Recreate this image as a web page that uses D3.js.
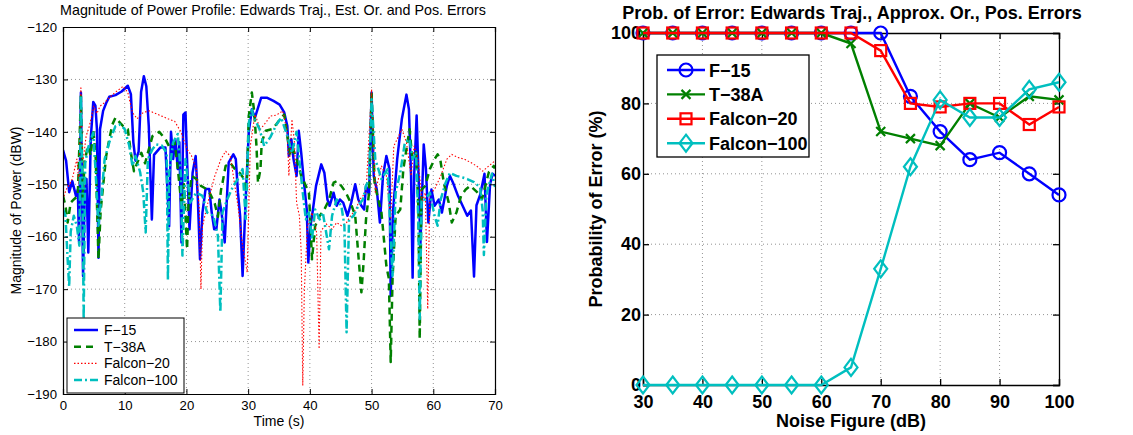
<!DOCTYPE html>
<html><head><meta charset="utf-8">
<script src="https://cdn.jsdelivr.net/npm/d3@7/dist/d3.min.js"></script>
<style>body{margin:0;background:#fff}svg{display:block}</style>
</head><body>
<svg id="c" width="1133" height="435"></svg>
<script>
// ---------- Left panel data: [time (s), power (dBW)] ----------
const f15 = [[0,-143.5],[0.5,-145.5],[1,-151.5],[1.5,-149.4],[2.1,-152.2],[2.4,-151],[2.6,-161],[2.9,-132.5],[3.25,-167.5],[3.5,-152.7],[3.8,-149],[4.1,-163],[4.5,-141.3],[4.9,-134.3],[5.25,-135],[5.5,-139.5],[5.75,-164],[6,-139.5],[6.5,-136],[7,-134.5],[7.5,-133.3],[8.5,-133],[9.5,-132.3],[10.5,-131.2],[11,-132.8],[11.4,-142],[11.75,-145.5],[12.25,-143.8],[12.65,-132.4],[13.1,-129.4],[13.5,-131.3],[13.9,-138.9],[14.15,-147.8],[14.4,-156.7],[14.75,-144.4],[15.75,-143],[16.6,-143],[17.2,-158],[17.5,-140],[17.85,-145.2],[18.2,-141.4],[18.6,-147.1],[18.85,-142],[19.2,-161.1],[19.5,-136.7],[19.85,-136.3],[20.1,-145.2],[20.5,-158.6],[21,-147.8],[21.5,-144.6],[21.85,-152.9],[22.2,-164.3],[22.6,-155.4],[23.1,-150.9],[23.7,-150.9],[24.1,-155.4],[24.5,-158.6],[24.85,-158.6],[25.35,-152.9],[25.7,-155.4],[26.2,-161.1],[26.85,-145.8],[27.6,-144.3],[28,-145.2],[28.35,-151.6],[28.7,-156],[29.1,-167.5],[29.6,-152.9],[30.1,-140.1],[30.6,-135.7],[31.1,-137.3],[32.1,-133.5],[33.1,-133.5],[34.1,-134.1],[35.1,-134.8],[35.85,-136.3],[36.35,-138.9],[36.6,-144.6],[37,-141.4],[37.35,-145.2],[37.85,-148.4],[38.2,-139.8],[38.6,-144],[39.1,-150.3],[39.5,-154.8],[39.75,-164.9],[40.1,-158],[40.5,-154.8],[41,-150.3],[41.85,-146.2],[42.35,-147.8],[42.85,-152.9],[43.2,-154.1],[43.85,-151.6],[44.35,-154.1],[44.85,-152.9],[45.4,-153.5],[46.1,-156],[46.7,-153.5],[47.35,-150],[47.85,-152.9],[48.35,-154.1],[48.8,-154.8],[49.1,-150.3],[49.6,-152],[50,-132.5],[50.35,-148.4],[50.85,-151],[51.35,-157.3],[51.85,-148.4],[52.4,-144.6],[52.9,-147.1],[53.1,-171.3],[53.5,-154.8],[54.15,-145.2],[54.9,-137.6],[55.65,-132.9],[56.05,-135.7],[56.4,-148.4],[56.65,-167.8],[56.9,-148.4],[57.3,-136.9],[57.7,-151.6],[57.9,-162],[58.45,-142.4],[58.8,-147],[59.2,-157.3],[59.7,-151],[60.2,-154.1],[60.9,-152.9],[61.4,-155.4],[62.2,-150.3],[62.7,-148.4],[63.2,-149.7],[64,-152.2],[64.75,-154.1],[65.5,-156],[66.1,-155],[66.6,-167.6],[67,-154],[67.6,-152],[68.3,-148],[68.7,-161],[69.2,-150],[69.6,-148],[70,-148.4]];

const t38a = [[0,-152.2],[0.4,-154.1],[0.75,-157.3],[1.25,-153.5],[1.75,-152.9],[2.4,-152.2],[2.9,-133.2],[3.2,-152.5],[3.5,-145.9],[4,-142.7],[4.5,-144.5],[4.9,-139.5],[5.3,-145],[5.75,-164.3],[6.1,-155],[6.5,-150.3],[7,-144.6],[7.5,-141.4],[8,-138.6],[8.5,-137.3],[9.25,-138.3],[10,-139.2],[10.5,-139.5],[11,-144],[11.5,-147.5],[12,-146],[12.7,-144],[13.3,-146],[13.75,-144],[14.5,-140.8],[15.1,-140.4],[15.6,-140],[16.6,-141.4],[17.3,-143],[18.1,-142],[18.6,-147],[19.2,-154],[19.6,-150],[20.1,-162.4],[20.35,-152.9],[20.85,-148.4],[21.6,-149],[22.35,-150.3],[23.1,-150.8],[23.85,-151.8],[24.6,-153.7],[25.1,-156.2],[25.6,-151.1],[25.85,-149.7],[26.35,-146.5],[27.1,-145.9],[27.85,-147.1],[28.6,-147.8],[29.35,-149],[29.75,-151.5],[30.1,-137],[30.6,-132.5],[31,-136.3],[31.35,-142.7],[31.6,-149.7],[32,-147.1],[32.2,-142],[32.85,-139.8],[33.85,-139.5],[34.6,-138.5],[35.35,-137.3],[35.85,-136.7],[36.35,-140.8],[36.85,-144.6],[37.35,-143.5],[37.85,-145.2],[38.6,-148.4],[39.35,-150.3],[39.85,-151.6],[40.35,-164.3],[40.85,-158],[41.6,-156],[42.35,-154.8],[43.1,-153],[43.85,-149.7],[44.35,-149.4],[45.1,-150.3],[45.85,-151.6],[46.6,-153.5],[47.35,-156],[48,-165.6],[48.35,-170.6],[48.7,-165],[49.1,-156.7],[49.6,-151.5],[50,-132.5],[50.5,-150],[51,-152.5],[51.6,-155.4],[52.4,-165.6],[52.8,-168],[53.1,-183.9],[53.4,-168],[53.9,-156],[54.65,-154.8],[55.15,-147.1],[55.65,-143.3],[56.15,-139.5],[56.6,-145],[57.2,-143.9],[57.6,-155],[57.8,-179.5],[58.1,-151],[58.7,-150.3],[59.45,-147.1],[60.2,-145.2],[60.7,-144.3],[61.1,-145],[61.7,-149.7],[62.5,-153.5],[63,-157.3],[63.75,-155.4],[64.5,-152.2],[65.25,-151],[66,-150.3],[67.1,-151.5],[67.9,-152.8],[69,-147.7],[69.8,-146.5],[70,-147]];

const falcon20 = [[0,-152.9],[0.5,-151],[1,-150.2],[1.5,-149],[2.25,-145.2],[2.6,-150],[2.9,-131.6],[3.2,-146],[3.75,-140.8],[4.25,-139],[5,-135.1],[5.5,-136.5],[6,-135.1],[6.75,-134.4],[7.75,-133.2],[8.75,-132.2],[9.75,-131.3],[10.5,-132.5],[11.25,-136.3],[12,-137.5],[13,-136.3],[14,-136],[15,-136.5],[16,-137],[17,-137.5],[18.1,-138],[19.1,-140],[20.1,-143.3],[20.8,-144.5],[21.6,-147.1],[22.1,-155],[22.35,-170],[22.6,-158],[23.6,-152.9],[24.6,-148.4],[25.6,-145.2],[26.35,-143.7],[27.1,-144.6],[27.85,-150.3],[28.35,-154.1],[29.1,-161.7],[29.85,-166.8],[30.35,-142.7],[31.1,-136.7],[32,-139.5],[33,-138],[33.6,-137],[34.6,-136.8],[35.6,-136],[36.35,-140.1],[36.6,-148.4],[37.1,-137.6],[37.5,-142],[37.85,-153.5],[38.3,-156],[38.6,-163],[38.85,-188.4],[39.1,-170.6],[39.6,-158],[40.35,-155.4],[41.1,-159.2],[41.5,-181.4],[41.8,-159],[42.6,-157.5],[43.6,-158.6],[44.35,-157.3],[45.1,-157.9],[45.85,-157.5],[46.6,-156],[47.35,-155],[48.1,-152.9],[49.1,-151.5],[50,-131.9],[50.6,-151.5],[51.6,-146.5],[52.4,-148.4],[53.1,-156.7],[53.6,-142.7],[54.15,-141.4],[54.9,-139.5],[55.65,-142],[56.4,-148.4],[56.9,-142.7],[57.5,-145],[58.2,-153.5],[58.7,-151.6],[59.1,-173.8],[59.45,-151.6],[60.2,-151],[61.2,-148.4],[62.2,-145.2],[63,-144.3],[64,-144.9],[65,-145.2],[66,-145.8],[67,-146.5],[68,-147.5],[69,-146.5],[70,-145.5]];

const falcon100 = [[0,-154.8],[0.4,-156],[0.75,-164.3],[1,-169.5],[1.25,-159],[1.75,-156],[2.25,-158],[2.65,-161.7],[2.9,-133],[3.15,-150],[3.35,-175.7],[3.6,-146],[4,-143.3],[4.5,-141.4],[4.9,-140.2],[5.25,-147],[5.75,-157.9],[6.25,-152],[6.75,-145.2],[7.5,-142],[8.5,-138.9],[9.25,-138.6],[10,-139.5],[10.75,-142.7],[11.25,-146.5],[11.75,-144.6],[12.5,-147.7],[13,-151.5],[13.4,-159.2],[13.75,-145.2],[14.5,-143.3],[15.1,-142.4],[16,-142.6],[16.8,-144],[17,-168.3],[17.2,-147.8],[17.85,-142],[18.6,-140.4],[19.1,-148],[19.35,-163.6],[19.85,-145.2],[20.6,-153.5],[21.6,-151.6],[22.6,-152.2],[23.35,-155.4],[24.35,-156],[25.1,-159.8],[25.5,-174.4],[25.85,-155.4],[26.6,-152.9],[27.6,-150.3],[28.35,-149],[29.1,-147.1],[29.6,-156.6],[30.1,-138.3],[30.6,-135.8],[30.85,-137],[31.85,-139.5],[32.6,-142.7],[33.6,-141],[34.6,-138.6],[35.35,-137.3],[36.35,-140.8],[37.1,-144],[37.85,-140],[38.35,-146],[38.85,-151.6],[39.35,-156.7],[39.85,-155.4],[40.35,-160.5],[40.85,-154.8],[41.6,-156.7],[42.1,-155.4],[43.1,-162.4],[43.6,-156],[44.35,-152.9],[45.1,-154.1],[45.6,-157.9],[45.95,-178.2],[46.35,-156.7],[47.1,-156],[47.85,-154.1],[48.6,-152.9],[49.1,-150.3],[49.6,-149],[50,-133.8],[50.6,-145.2],[51.1,-147.1],[51.6,-149],[52.6,-147.1],[53.1,-160],[53.4,-167.5],[53.9,-151.6],[54.65,-147.8],[55.4,-142],[56.15,-141.4],[56.65,-145.2],[57.2,-143.9],[57.6,-157.9],[57.8,-175.7],[58.1,-152.9],[58.7,-152.9],[59.45,-151.6],[60.2,-156],[60.7,-157.9],[61.2,-152.9],[62,-149.7],[62.7,-147.8],[63.75,-148.4],[64.75,-148.7],[65.5,-149],[66.6,-149.6],[67.6,-150.6],[68,-155],[68.2,-163.5],[68.6,-152],[69.5,-148],[70,-150.5]];

const leftXTicks = [0,10,20,30,40,50,60,70];
const leftYTicks = [-190,-180,-170,-160,-150,-140,-130,-120];

// ---------- Right panel data ----------
const noiseFigure = [30,35,40,45,50,55,60,65,70,75,80,85,90,95,100];
const pF15      = [100,100,100,100,100,100,100,100,100,82,72,64,66,60,54];
const pT38A     = [100,100,100,100,100,100,100,97,72,70,68,80,76,82,81];
const pFalcon20 = [100,100,100,100,100,100,100,100,95,80,79,80,80,74,79];
const pFalcon100= [0,0,0,0,0,0,0,5,33,62,81,76,76,84,86];
const rightXTicks = [30,40,50,60,70,80,90,100];
const rightYTicks = [0,20,40,60,80,100];

const seriesNames = ["F\u221215","T\u221238A","Falcon\u221220","Falcon\u2212100"];
const colors = ["#0000ff","#008000","#ff0000","#00bfbf"];

const svg = d3.select("#c");
const FONT = "'Liberation Sans', Arial, Helvetica, sans-serif";
const fmt = d => String(d).replace("-", "\u2212");

// ================= LEFT PANEL =================
(function(){
  const L=63,R=495,T=27,B=394;
  const x = d3.scaleLinear().domain([0,70]).range([L,R]);
  const y = d3.scaleLinear().domain([-190,-120]).range([B,T]);
  const g = svg.append("g");
  g.append("rect").attr("x",L).attr("y",T).attr("width",R-L).attr("height",B-T).attr("fill","#fff");
  g.selectAll(".gx").data(leftXTicks.slice(1,-1)).join("line")
    .attr("x1",d=>x(d)).attr("x2",d=>x(d)).attr("y1",T).attr("y2",B)
    .attr("stroke","#777").attr("stroke-width",0.8).attr("stroke-dasharray","1,3");
  g.selectAll(".gy").data(leftYTicks.slice(1,-1)).join("line")
    .attr("y1",d=>y(d)).attr("y2",d=>y(d)).attr("x1",L).attr("x2",R)
    .attr("stroke","#777").attr("stroke-width",0.8).attr("stroke-dasharray","1,3");

  svg.append("clipPath").attr("id","clipL").append("rect").attr("x",L).attr("y",T).attr("width",R-L).attr("height",B-T);
  const line = d3.line().x(d=>x(d[0])).y(d=>y(d[1]));
  const lg = g.append("g").attr("clip-path","url(#clipL)");
  const styles = [
    {w:2.5, dash:null},
    {w:2.5, dash:"7,5"},
    {w:1.1, dash:"1.5,2"},
    {w:2.5, dash:"8,3,2,3"}
  ];
  [f15,t38a,falcon20,falcon100].forEach((s,i)=>{
    lg.append("path").attr("d",line(s)).attr("fill","none")
      .attr("stroke",colors[i]).attr("stroke-width",styles[i].w)
      .attr("stroke-dasharray",styles[i].dash).attr("stroke-linejoin","round");
  });

  const ax = d3.axisBottom(x).tickValues(leftXTicks).tickSize(-5).tickPadding(7).tickFormat(fmt);
  const ay = d3.axisLeft(y).tickValues(leftYTicks).tickSize(-5).tickPadding(6).tickFormat(fmt);
  const axT = d3.axisTop(x).tickValues(leftXTicks).tickSize(-5).tickFormat("");
  const ayR = d3.axisRight(y).tickValues(leftYTicks).tickSize(-5).tickFormat("");
  [[ax,`translate(0,${B})`],[ay,`translate(${L},0)`],[axT,`translate(0,${T})`],[ayR,`translate(${R},0)`]].forEach(([a,tr])=>{
    const gg = g.append("g").attr("transform",tr).call(a);
    gg.select(".domain").attr("stroke","#000").attr("stroke-width",1.2);
    gg.selectAll(".tick line").attr("stroke","#000");
    gg.selectAll("text").attr("font-family",FONT).attr("font-size",13.2).attr("fill","#000");
  });

  g.append("text").attr("x",(L+R)/2-6).attr("y",15).attr("text-anchor","middle")
    .attr("font-family",FONT).attr("font-size",14.3).text("Magnitude of Power Profile:  Edwards Traj., Est. Or. and Pos. Errors");
  g.append("text").attr("x",(L+R)/2).attr("y",426).attr("text-anchor","middle")
    .attr("font-family",FONT).attr("font-size",14).text("Time (s)");
  g.append("text").attr("transform",`translate(21,${(T+B)/2}) rotate(-90)`).attr("text-anchor","middle")
    .attr("font-family",FONT).attr("font-size",14).text("Magnitude of Power (dBW)");

  const leg = g.append("g");
  leg.append("rect").attr("x",67).attr("y",318).attr("width",117).attr("height",75).attr("fill","#fff").attr("stroke","#000").attr("stroke-width",1);
  seriesNames.forEach((n,i)=>{
    const yy = 330 + i*16.7;
    leg.append("line").attr("x1",74).attr("x2",98).attr("y1",yy).attr("y2",yy)
      .attr("stroke",colors[i]).attr("stroke-width",styles[i].w).attr("stroke-dasharray",styles[i].dash);
    leg.append("text").attr("x",104).attr("y",yy+5).attr("font-family",FONT).attr("font-size",14).text(n);
  });
})();

// ================= RIGHT PANEL =================
(function(){
  const L=643,R=1059,T=33,B=385;
  const x = d3.scaleLinear().domain([30,100]).range([L,R]);
  const y = d3.scaleLinear().domain([0,100]).range([B,T]);
  const g = svg.append("g");
  g.selectAll(".gx").data(rightXTicks.slice(1,-1)).join("line")
    .attr("x1",d=>x(d)).attr("x2",d=>x(d)).attr("y1",T).attr("y2",B)
    .attr("stroke","#777").attr("stroke-width",0.8).attr("stroke-dasharray","1,3");
  g.selectAll(".gy").data(rightYTicks.slice(1,-1)).join("line")
    .attr("y1",d=>y(d)).attr("y2",d=>y(d)).attr("x1",L).attr("x2",R)
    .attr("stroke","#777").attr("stroke-width",0.8).attr("stroke-dasharray","1,3");

  const ax = d3.axisBottom(x).tickValues(rightXTicks).tickSize(-6).tickPadding(10);
  const ay = d3.axisLeft(y).tickValues(rightYTicks).tickSize(-6).tickPadding(2);
  const axT = d3.axisTop(x).tickValues(rightXTicks).tickSize(-6).tickFormat("");
  const ayR = d3.axisRight(y).tickValues(rightYTicks).tickSize(-6).tickFormat("");
  [[ax,`translate(0,${B})`],[ay,`translate(${L},0)`],[axT,`translate(0,${T})`],[ayR,`translate(${R},0)`]].forEach(([a,tr])=>{
    const gg = g.append("g").attr("transform",tr).call(a);
    gg.select(".domain").attr("stroke","#000").attr("stroke-width",1.3);
    gg.selectAll(".tick line").attr("stroke","#000").attr("stroke-width",1.3);
    gg.selectAll("text").attr("font-family",FONT).attr("font-size",18).attr("font-weight","bold").attr("fill","#000");
  });

  const marker = (sel,i,cx,cy)=>{
    const c = colors[i];
    if(i===0) sel.append("circle").attr("cx",cx).attr("cy",cy).attr("r",6.5).attr("fill","none").attr("stroke",c).attr("stroke-width",2.2);
    else if(i===1) sel.append("path").attr("d",`M${cx-4.5},${cy-4.5}L${cx+4.5},${cy+4.5}M${cx-4.5},${cy+4.5}L${cx+4.5},${cy-4.5}`).attr("stroke",c).attr("stroke-width",2.2);
    else if(i===2) sel.append("rect").attr("x",cx-5.5).attr("y",cy-5.5).attr("width",11).attr("height",11).attr("fill","none").attr("stroke",c).attr("stroke-width",2.2);
    else sel.append("path").attr("d",`M${cx},${cy-8.5}L${cx+6.5},${cy}L${cx},${cy+8.5}L${cx-6.5},${cy}Z`).attr("fill","none").attr("stroke",c).attr("stroke-width",2.2);
  };
  const line = d3.line().x(d=>x(d[0])).y(d=>y(d[1]));
  [pF15,pT38A,pFalcon20,pFalcon100].forEach((vals,i)=>{
    const pts = noiseFigure.map((nf,k)=>[nf,vals[k]]);
    const sg = g.append("g");
    sg.append("path").attr("d",line(pts)).attr("fill","none").attr("stroke",colors[i]).attr("stroke-width",2.4);
    pts.forEach(p=>marker(sg,i,x(p[0]),y(p[1])));
  });

  g.append("text").attr("x",852).attr("y",19).attr("text-anchor","middle")
    .attr("font-family",FONT).attr("font-size",18).attr("font-weight","bold")
    .text("Prob. of Error: Edwards Traj., Approx. Or., Pos. Errors");
  g.append("text").attr("x",(L+R)/2).attr("y",427).attr("text-anchor","middle")
    .attr("font-family",FONT).attr("font-size",18).attr("font-weight","bold").text("Noise Figure (dB)");
  g.append("text").attr("transform",`translate(602,${(T+B)/2}) rotate(-90)`).attr("text-anchor","middle")
    .attr("font-family",FONT).attr("font-size",18).attr("font-weight","bold").text("Probability of Error (%)");

  const leg = g.append("g");
  leg.append("rect").attr("x",657).attr("y",55).attr("width",152).attr("height",102).attr("fill","#fff").attr("stroke","#000").attr("stroke-width",1.3);
  seriesNames.forEach((n,i)=>{
    const yy = 70 + i*24.4;
    leg.append("line").attr("x1",667).attr("x2",705).attr("y1",yy).attr("y2",yy).attr("stroke",colors[i]).attr("stroke-width",2.4);
    marker(leg,i,686,yy);
    leg.append("text").attr("x",709).attr("y",yy+6.5).attr("font-family",FONT).attr("font-size",18).attr("font-weight","bold").text(n);
  });
})();
</script>
</body></html>
